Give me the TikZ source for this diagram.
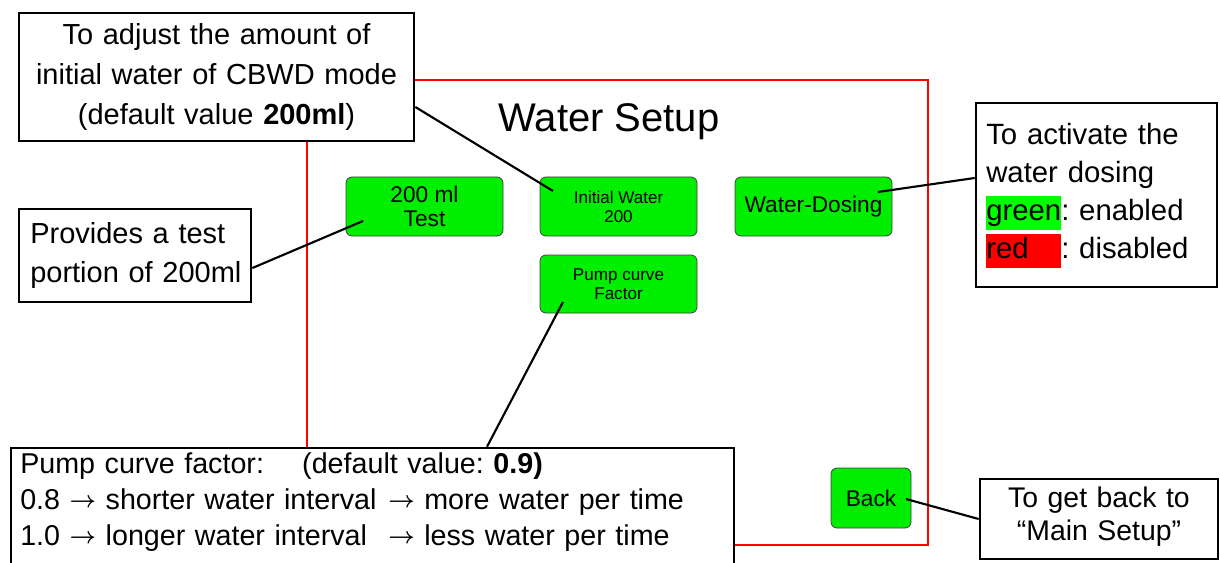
\documentclass[tikz,border=0pt]{standalone}
\usepackage{fontspec}
\setmainfont{Liberation Sans}
\usetikzlibrary{positioning}
\definecolor{btngreen}{RGB}{0,238,0}
\definecolor{hlgreen}{RGB}{0,255,0}
\definecolor{hlred}{RGB}{255,0,0}
\definecolor{framered}{RGB}{255,0,0}
\frenchspacing
\newcommand{\hlbox}[2]{{\setlength{\fboxsep}{0pt}\colorbox{#1}{\rule[-7.5pt]{0pt}{25.5pt}#2}}}
\newcommand{\toarrow}{\raisebox{0.8pt}{\fontsize{18pt}{18pt}\selectfont\boldmath$\rightarrow$}}
\begin{document}
\begin{tikzpicture}[x=0.75pt,y=-0.75pt,
  button/.style={draw=black!75, line width=0.6pt, fill=btngreen, rounded corners=4.5pt,
    inner sep=0pt, align=center},
  bigbtn/.style={button, font=\fontsize{17pt}{18pt}\selectfont},
  smallbtn/.style={button, font=\fontsize{12.8pt}{14.3pt}\selectfont},
  callout/.style={draw=black, line width=2pt, fill=white, inner sep=0pt},
  calltext/.style={inner sep=0pt},
  leader/.style={draw=black, line width=1.6pt},
  screenframe/.style={draw=framered, line width=1.1pt}
]
\useasboundingbox (0,0) rectangle (1220,563);

% screen outline
\draw[screenframe] (307,80) rectangle (928,545);

% title of the screen
\node[calltext, anchor=base, font=\fontsize{30pt}{34pt}\selectfont] (title) at (609,132) {Water Setup};

% buttons
\node[bigbtn, minimum width=117.75pt, minimum height=44.25pt] (btest) at (424.5,206.5) {200 ml\\Test};
\node[smallbtn, minimum width=117.75pt, minimum height=44.25pt] (binit) at (618.5,206.5) {Initial Water\\200};
\node[bigbtn, minimum width=117.75pt, minimum height=44.25pt] (bdose) at (813.5,206.5) {Water-Dosing};
\node[smallbtn, minimum width=117.75pt, minimum height=43.5pt] (bpump) at (618.5,284) {Pump curve\\Factor};
\node[bigbtn, minimum width=60pt, minimum height=45pt] (bback) at (871,498) {Back};

% leader end points inside the buttons
\coordinate (tipInit) at (553,191);
\coordinate (tipTest) at (363,221);
\coordinate (tipDose) at (878,192);
\coordinate (tipPump) at (563,302);
\coordinate (tipBack) at (906,499);

% callout boxes
\node[callout, minimum width=296.25pt, minimum height=96pt] (cbwd) at (216.5,77) {};
\node[callout, minimum width=174pt, minimum height=69.75pt] (test) at (135,255.5) {};
\node[callout, minimum width=180.75pt, minimum height=138pt] (dosing) at (1096.5,195) {};
\node[callout, minimum width=178.5pt, minimum height=60pt] (back) at (1099,519) {};
\node[callout, minimum width=542.25pt, minimum height=95.25pt] (pump) at (372.5,511.5) {};

% leaders
\draw[leader] ([yshift=-22.5pt]cbwd.east) -- (tipInit);
\draw[leader] ([yshift=-9.4pt]test.east) -- (tipTest);
\draw[leader] ([yshift=12.75pt]dosing.west) -- (tipDose);
\draw[leader] ([xshift=85.9pt]pump.north) -- (tipPump);
\draw[leader] (back.west) -- (tipBack);

% callout texts
\node[calltext, anchor=base, text width=290pt, align=center,
  font=\fontsize{21.75pt}{30pt}\selectfont] (cbwdtext) at (216.5,45)
  {To adjust the amount of\\initial water of CBWD mode\\(default value \textbf{200ml})};

\node[calltext, anchor=base west, text width=170pt, align=left,
  font=\fontsize{21.75pt}{29.25pt}\selectfont] (testtext) at (30,243)
  {Provides a test\\portion of 200ml};

\node[calltext, anchor=base west, text width=175pt, align=left,
  font=\fontsize{22pt}{28.3pt}\selectfont] (dosetext) at (986,145)
  {To activate the\\water dosing\\\hlbox{hlgreen}{green}: enabled\\\hlbox{hlred}{\rlap{red}\hphantom{green}}: disabled};

\node[calltext, anchor=base, text width=176pt, align=center,
  font=\fontsize{21.3pt}{24.75pt}\selectfont] (backtext) at (1099,507)
  {To get back to\\“Main Setup”};

\node[calltext, anchor=base west, text width=536pt, align=left,
  font=\fontsize{21.5pt}{27pt}\selectfont] (pumptext) at (20,473)
  {\makebox[211.5pt][l]{Pump curve factor:}(default value: \textbf{0.9)}\\
   \makebox[276pt][l]{0.8 \toarrow{} shorter water interval}\toarrow{} more water per time\\
   \makebox[276pt][l]{1.0 \toarrow{} longer water interval}\toarrow{} less water per time};
\end{tikzpicture}
\end{document}
